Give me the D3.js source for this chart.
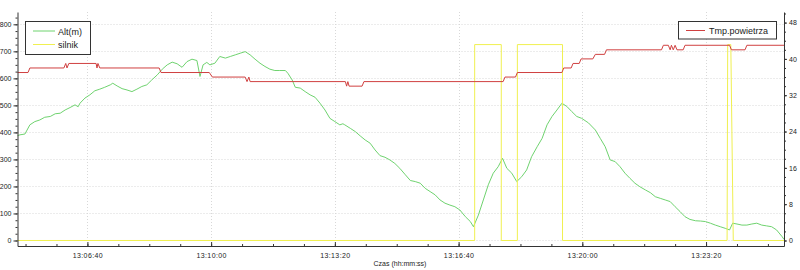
<!DOCTYPE html>
<html>
<head>
<meta charset="utf-8">
<script src="https://cdn.jsdelivr.net/npm/d3@7"></script>
<style>
  body { margin: 0; background: #fff; }
  svg { display: block; font-family: "Liberation Sans", Arial, sans-serif; }
  .axis path, .axis line { stroke: #333; }
  .axis text { fill: #222; font-size: 7px; }
  .grid line { stroke: #d8d8d8; stroke-dasharray: 1,2; }
</style>
</head>
<body>
<div id="chart"></div>
<script>
// log start and time ticks
var startTime = "13:04:47";
var endSec = 1239;
var xTickLabels = ["13:06:40", "13:10:00", "13:13:20", "13:16:40", "13:20:00", "13:23:20"];
var altTicks = [0, 100, 200, 300, 400, 500, 600, 700, 800];
var tempTicks = [0, 8, 16, 24, 32, 40, 48];

// Alt(m) - seconds from start, metres
var altSec = [0, 4, 12, 20, 28, 36, 44, 53, 61, 69, 77, 85, 93, 98, 101, 109, 117, 125, 133, 141,
  150, 154, 161, 169, 177, 185, 193, 201, 209, 217, 226, 234, 242, 250, 258, 266, 274, 282, 290, 295,
  300, 306, 311, 319, 327, 336, 344, 352, 360, 368, 376, 384, 392, 400, 408, 416, 424, 433, 437, 444,
  449, 457, 465, 473, 481, 489, 497, 505, 513, 521, 526, 529, 538, 546, 554, 562, 570, 578, 586, 594,
  602, 610, 618, 627, 635, 643, 651, 659, 667, 675, 683, 691, 699, 707, 715, 724, 732, 737, 745, 753,
  761, 769, 777, 784, 791, 799, 807, 815, 823, 831, 840, 848, 856, 864, 872, 880, 888, 896, 904, 912,
  923, 934, 942, 950, 958, 966, 974, 982, 990, 998, 1006, 1015, 1023, 1031, 1039, 1047, 1055, 1063, 1071, 1079,
  1087, 1096, 1104, 1112, 1120, 1128, 1136, 1144, 1151, 1156, 1163, 1171, 1179, 1187, 1195, 1203, 1211, 1219, 1227, 1236, 1239];
var altVal = [388, 391, 394, 428, 440, 446, 456, 459, 469, 471, 483, 492, 502, 495, 508, 527, 539, 554, 560, 567,
  576, 582, 572, 562, 557, 551, 560, 570, 576, 594, 613, 634, 650, 660, 654, 641, 662, 671, 666, 607,
  650, 659, 650, 656, 681, 675, 681, 687, 693, 699, 687, 671, 656, 644, 634, 629, 629, 629, 619, 594,
  567, 564, 551, 539, 530, 508, 483, 452, 440, 428, 432, 428, 415, 403, 387, 372, 360, 335, 314, 308,
  298, 285, 267, 243, 222, 218, 212, 193, 181, 169, 150, 138, 131, 125, 113, 88, 70, 51, 94, 150,
  206, 249, 273, 304, 267, 249, 218, 236, 261, 310, 347, 378, 428, 459, 483, 508, 496, 477, 459, 452,
  435, 409, 378, 347, 298, 292, 273, 249, 230, 212, 199, 187, 177, 162, 156, 150, 144, 125, 107, 88,
  78, 73, 72, 70, 64, 57, 51, 45, 39, 64, 61, 57, 57, 61, 64, 57, 54, 51, 39, 14, 4];

// silnik (engine) - seconds from start, drawn against the left axis
var silnikSec = [0, 739, 739, 782, 782, 808, 808, 881, 881, 1147, 1148, 1153, 1157, 1239];
var silnikVal = [0, 0, 725, 725, 0, 0, 725, 725, 0, 0, 725, 725, 0, 0];

// Tmp.powietrza - seconds from start, deg C
var tempSec = [0, 17, 20, 75, 78, 80, 83, 127, 128.5, 130, 133, 229, 232, 310, 315, 368, 371, 374, 376,
  530, 532, 534, 536, 557, 560, 785, 788, 805, 808, 880, 883, 895, 898, 908, 911, 930, 934, 949, 952,
  1041, 1044, 1052, 1055, 1057, 1060, 1063, 1066, 1076, 1079, 1151, 1154, 1176, 1179, 1239];
var tempVal = [37, 37, 38, 38, 39, 38, 39, 39, 38, 39, 38, 38, 37, 37, 36, 36, 35, 36, 35,
  35, 34, 35, 34, 34, 35, 35, 36, 36, 37, 37, 38, 38, 39, 39, 40, 40, 41, 41, 42,
  42, 43, 43, 42, 43, 42, 43, 42, 42, 43, 43, 42, 42, 43, 43];

var svgWidth = 800;
var svgHeight = 270;

var svg = d3.select("#chart")
  .append("svg")
  .attr("width", svgWidth)
  .attr("height", svgHeight);

var parseTime = d3.timeParse("%H:%M:%S");
var t0 = parseTime(startTime);
function atSec(s) {
  return new Date(t0.getTime() + s * 1000);
}

var plotLeft = 17.5, plotRight = 784, plotTop = 12, plotBottom = 246;

var xScale = d3.scaleTime()
  .domain([t0, atSec(endSec)])
  .range([plotLeft, plotRight]);

var yLeft = d3.scaleLinear()
  .domain([-20.4, 845.6])
  .range([plotBottom, plotTop]);

var yRight = d3.scaleLinear()
  .domain([-1.21, 50.33])
  .range([plotBottom, plotTop]);

var xTicks = xTickLabels.map(parseTime);
var xMinor = d3.range(-2, 26).map(function(i) {
  return new Date(xTicks[0].getTime() + i * 50000);
}).filter(function(d) { return d >= t0 && d <= atSec(endSec); });

// grid
var grid = svg.append("g").attr("class", "grid");
grid.selectAll(".gx")
  .data(xTicks)
  .enter()
  .append("line")
  .attr("x1", d => Math.round(xScale(d)) + 0.5)
  .attr("x2", d => Math.round(xScale(d)) + 0.5)
  .attr("y1", plotTop)
  .attr("y2", plotBottom);
grid.selectAll(".gy")
  .data(altTicks)
  .enter()
  .append("line")
  .attr("x1", plotLeft)
  .attr("x2", plotRight)
  .attr("y1", d => Math.round(yLeft(d)) + 0.5)
  .attr("y2", d => Math.round(yLeft(d)) + 0.5);

// series
var altLine = d3.line()
  .x((d, i) => xScale(atSec(altSec[i])))
  .y(d => yLeft(d));

var silnikLine = d3.line()
  .x((d, i) => xScale(atSec(silnikSec[i])))
  .y(d => yLeft(d));

var tempLine = d3.line()
  .x((d, i) => xScale(atSec(tempSec[i])))
  .y(d => yRight(d));

svg.append("path")
  .datum(altVal)
  .attr("fill", "none")
  .attr("stroke", "#6fd36f")
  .attr("stroke-width", 1)
  .attr("d", altLine);

svg.append("path")
  .datum(silnikVal)
  .attr("fill", "none")
  .attr("stroke", "#f0f050")
  .attr("stroke-width", 1)
  .attr("d", silnikLine);

svg.append("path")
  .datum(tempVal)
  .attr("fill", "none")
  .attr("stroke", "#d04040")
  .attr("stroke-width", 1)
  .attr("d", tempLine);

// axes
var fmt = d3.timeFormat("%H:%M:%S");

var xAxis = svg.append("g")
  .attr("class", "axis")
  .attr("transform", `translate(0, ${plotBottom})`)
  .call(d3.axisBottom(xScale).tickValues(xTicks).tickFormat(fmt).tickSizeInner(-4).tickSizeOuter(0).tickPadding(7));
xAxis.selectAll("text").attr("letter-spacing", "0.4px");
svg.append("g")
  .attr("class", "axis")
  .attr("transform", `translate(0, ${plotBottom})`)
  .call(d3.axisBottom(xScale).tickValues(xMinor).tickFormat("").tickSizeInner(-2).tickSizeOuter(0))
  .select(".domain").remove();

svg.append("g")
  .attr("class", "axis")
  .attr("transform", `translate(${plotLeft}, 0)`)
  .call(d3.axisLeft(yLeft).tickValues(altTicks).tickSizeInner(4).tickSizeOuter(0).tickPadding(2));
svg.append("g")
  .attr("class", "axis")
  .attr("transform", `translate(${plotLeft}, 0)`)
  .call(d3.axisLeft(yLeft).tickValues(d3.range(0, 846, 25)).tickFormat("").tickSizeInner(2).tickSizeOuter(0))
  .select(".domain").remove();

svg.append("g")
  .attr("class", "axis")
  .attr("transform", `translate(${plotRight}, 0)`)
  .call(d3.axisRight(yRight).tickValues(tempTicks).tickSizeInner(3).tickSizeOuter(0).tickPadding(2));
svg.append("g")
  .attr("class", "axis")
  .attr("transform", `translate(${plotRight}, 0)`)
  .call(d3.axisRight(yRight).tickValues(d3.range(0, 51, 2)).tickFormat("").tickSizeInner(2).tickSizeOuter(0))
  .select(".domain").remove();

svg.append("text")
  .attr("x", 400)
  .attr("y", 266)
  .attr("text-anchor", "middle")
  .attr("font-size", 7)
  .attr("fill", "#222")
  .text("Czas (hh:mm:ss)");

// legends
var legL = svg.append("g");
legL.append("rect")
  .attr("x", 25.5).attr("y", 21.5)
  .attr("width", 65).attr("height", 33)
  .attr("fill", "#fff").attr("stroke", "#333");
legL.append("line")
  .attr("x1", 33).attr("x2", 55).attr("y1", 31).attr("y2", 31)
  .attr("stroke", "#6fd36f");
legL.append("text")
  .attr("x", 58).attr("y", 34.5)
  .attr("font-size", 9).attr("fill", "#222")
  .text("Alt(m)");
legL.append("line")
  .attr("x1", 33).attr("x2", 55).attr("y1", 44.5).attr("y2", 44.5)
  .attr("stroke", "#f0f050");
legL.append("text")
  .attr("x", 58).attr("y", 48)
  .attr("font-size", 9).attr("fill", "#222")
  .text("silnik");

var legR = svg.append("g");
legR.append("rect")
  .attr("x", 678.5).attr("y", 21.5)
  .attr("width", 98).attr("height", 17.5)
  .attr("fill", "#fff").attr("stroke", "#333");
legR.append("line")
  .attr("x1", 686).attr("x2", 705).attr("y1", 30.5).attr("y2", 30.5)
  .attr("stroke", "#d04040");
legR.append("text")
  .attr("x", 709).attr("y", 34)
  .attr("font-size", 9).attr("fill", "#222")
  .text("Tmp.powietrza");
</script>
</body>
</html>
